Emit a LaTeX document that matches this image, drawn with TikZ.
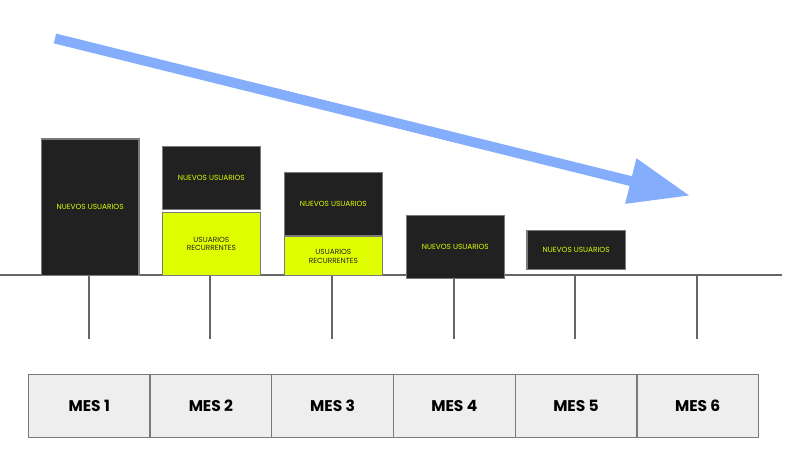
\documentclass[tikz,border=0pt]{standalone}
\usepackage{fontspec}
\setmainfont{Poppins}
\usetikzlibrary{arrows.meta}
\definecolor{darkfill}{HTML}{212121}
\definecolor{lime}{HTML}{DFFF00}
\definecolor{edgegray}{HTML}{7A7A7A}
\definecolor{axisgray}{HTML}{666666}
\definecolor{monthfill}{HTML}{EEEEEE}
\definecolor{arrowblue}{HTML}{84ADFB}
\tikzset{
  darkbox/.style={draw=edgegray, line width=1.3pt, fill=darkfill, text=lime,
    font=\fontsize{7.4}{8.7}\selectfont, align=center, inner sep=0pt, anchor=north west},
  limebox/.style={draw=edgegray, line width=1.3pt, fill=lime, text=darkfill,
    font=\fontsize{7.4}{8.7}\selectfont, align=center, inner sep=0pt, anchor=north west},
  monthbox/.style={draw=edgegray, line width=1.3pt, fill=monthfill, text=black,
    font=\fontsize{15.5}{18}\selectfont\bfseries, minimum width=121.7pt, minimum height=62.7pt,
    inner sep=0pt, anchor=north west},
  tick/.style={draw=axisgray, line width=2pt},
}
\begin{document}
\begin{tikzpicture}[x=1pt,y=-1pt]
\useasboundingbox (0,0) rectangle (786,464);
% trend arrow
\coordinate (as) at (55,38.5);
\coordinate (ae) at (690,195.7);
\draw[arrowblue, line width=10pt, -{Triangle[length=61pt 0 0,width=44pt 0 0]}] (as) -- (ae);
% month boxes
\foreach \i in {1,...,6}{
  \node[monthbox] (m\i) at ({27.7+121.7*(\i-1)},374) {MES \i};
}
% ticks
\foreach \i in {1,...,6}{
  \coordinate (t\i) at ({27.7+121.7*(\i-1)+60.85},339);
  \coordinate (b\i) at ({27.7+121.7*(\i-1)+60.85},275);
  \draw[tick] (b\i) -- (t\i);
}
% baseline
\coordinate (bl) at (0,275);
\coordinate (br) at (782,275);
\draw[axisgray, line width=2pt] (bl) -- (br);
% bars
\node[darkbox, minimum width=97.6pt, minimum height=136.7pt] (n1) at (40.7,138.3) {NUEVOS USUARIOS};
\node[limebox, minimum width=98pt, minimum height=63.3pt] (r2) at (161.7,211.7) {USUARIOS\\RECURRENTES};
\node[darkbox, minimum width=98pt, minimum height=63.3pt] (n2) at (161.7,145.7) {NUEVOS USUARIOS};
\node[limebox, minimum width=98pt, minimum height=39pt] (r3) at (283.7,236) {USUARIOS\\RECURRENTES};
\node[darkbox, minimum width=98pt, minimum height=63.3pt] (n3) at (283.7,171.7) {NUEVOS USUARIOS};
\node[darkbox, minimum width=98pt, minimum height=63pt] (n4) at (405.7,214.7) {NUEVOS USUARIOS};
\node[darkbox, minimum width=98.4pt, minimum height=38.7pt] (n5) at (526.3,230) {NUEVOS USUARIOS};
\end{tikzpicture}
\end{document}
